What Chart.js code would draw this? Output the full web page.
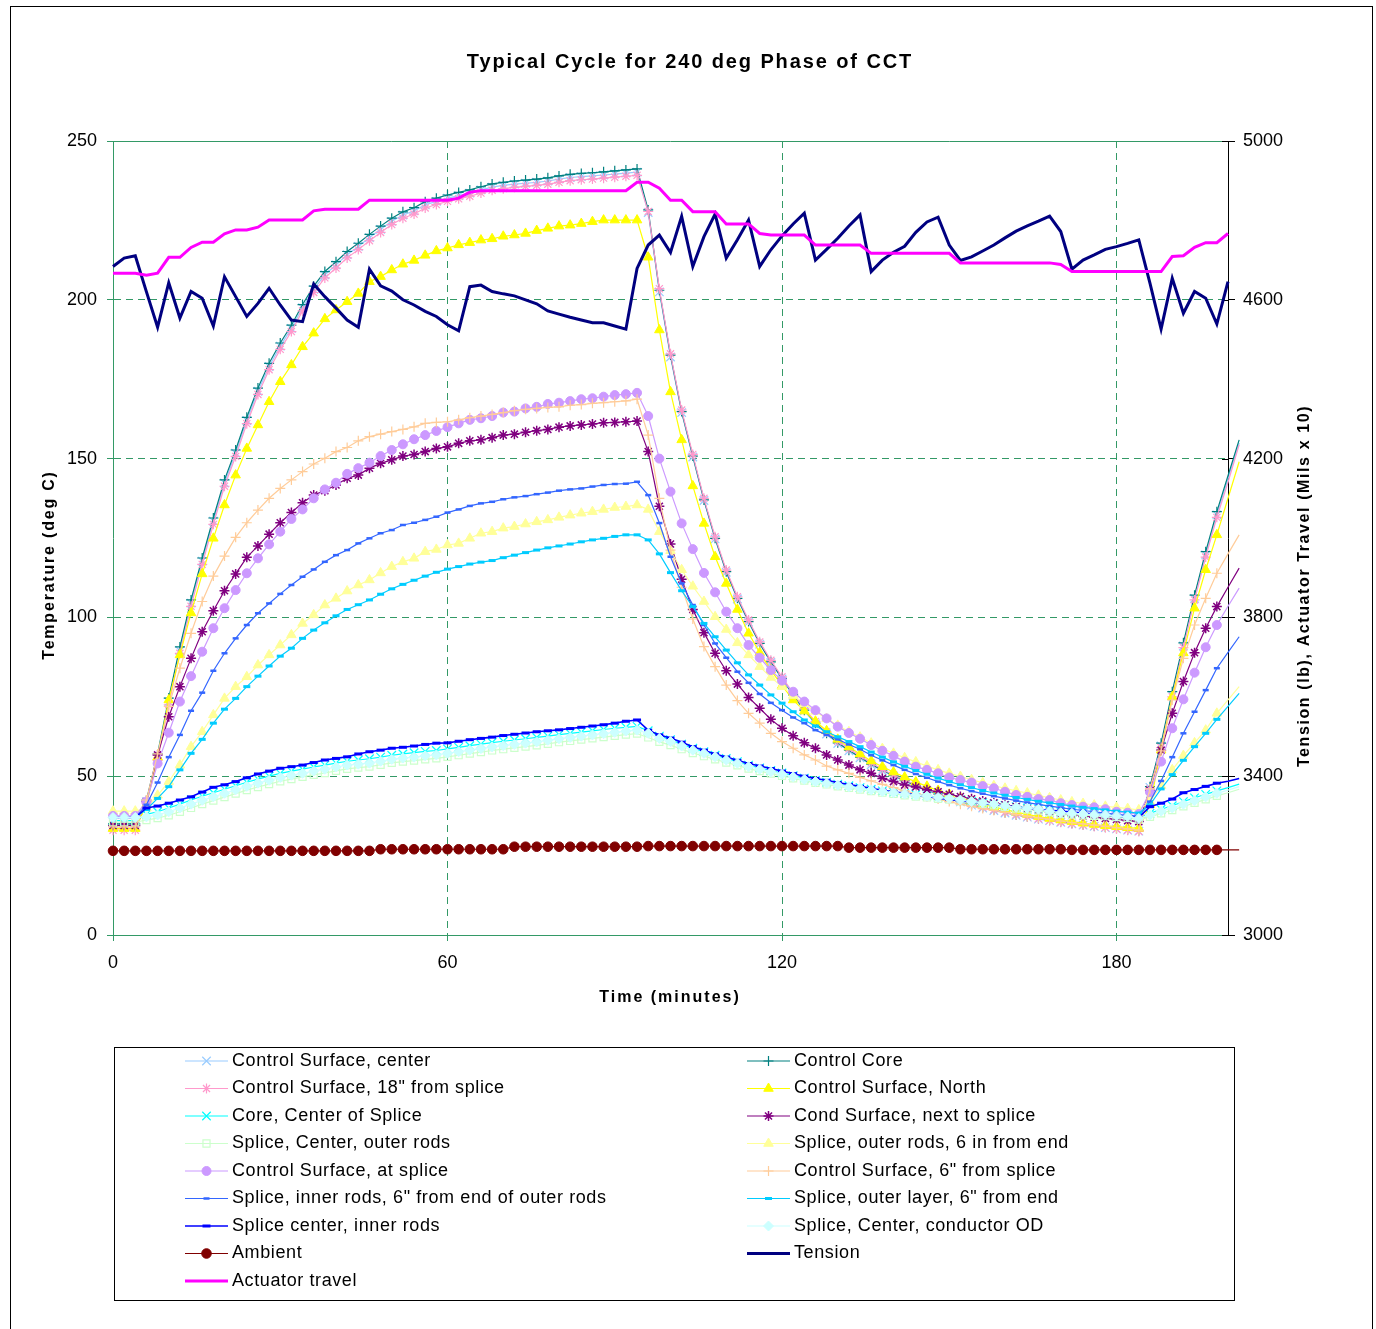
<!DOCTYPE html>
<html>
<head>
<meta charset="utf-8">
<script src="https://cdn.jsdelivr.net/npm/chart.js@4.4.1/dist/chart.umd.min.js"></script>
<style>
html,body{margin:0;padding:0;background:#fff;}
canvas{display:block;}
</style>
</head>
<body>
<canvas id="c" width="1376" height="1329"></canvas>
<script>
// ---------------- DATA ----------------
const minutes = [0,2,4,6,8,10,12,14,16,18,20,22,24,26,28,30,32,34,36,38,40,42,44,46,48,50,52,54,56,58,
  60,62,64,66,68,70,72,74,76,78,80,82,84,86,88,90,92,94,96,98,100,102,104,106,108,110,112,114,116,118,
  120,122,124,126,128,130,132,134,136,138,140,142,144,146,148,150,152,154,156,158,160,162,164,166,168,170,
  172,174,176,178,180,182,184,186,188,190,192,194,196,198,200,202];
const timeTicks = [0, 60, 120, 180];
const tempTicks = [0, 50, 100, 150, 200, 250];
const tensionTicks = [3000, 3400, 3800, 4200, 4600, 5000];

const controlSurfaceCenter = [34,34,34,
  42,56,73.5,89.5,104.5,117.7,130.3,142.3,151.7,162,
  171.2,179,185.4,191,197.5,203.3,207.9,211,214.2,216.8,
  219.6,222.2,224.7,226.7,228,229.9,231,232,232.8,233.6,
  234.6,235.5,236,236.4,236.7,237,237.4,238,238.5,238.8,
  239,239.3,239.6,239.9,240.2,
  227.5,202.5,182,164.5,150.5,136.8,124.7,114.2,105.8,98.5,
  91.6,85.8,80.6,75.4,70.6,66.5,63.3,60.3,58,55.8,
  53.6,51.7,50,48.4,46.9,45.5,44.2,43,41.9,40.9,
  40,39.2,38.4,37.7,37.1,36.5,36,35.5,35,34.6,
  34.2,33.8,33.4,33,32.7,
  46.5,59.5,75.5,91,106,119.7,132.3,143.6,154.9];

const controlCore = [35,35,35,
  42.5,57,74.6,90.7,105.5,118.7,131.3,143.3,152.7,163,
  172.2,180,186.4,192,198.5,204.3,208.9,212,215.2,217.8,
  220.6,223.2,225.7,227.7,229,230.9,232,233,233.8,234.6,
  235.6,236.5,237,237.4,237.7,238,238.4,239,239.5,239.8,
  240,240.3,240.6,240.9,241.2,
  228.3,203,182.6,164.8,150.8,137,124.9,114.4,106,98.7,
  91.8,86,80.8,75.6,70.8,66.7,63.5,60.5,58.2,56,
  53.8,51.9,50.2,48.6,47.1,45.7,44.4,43.2,42.1,41.1,
  40.2,39.4,38.6,37.9,37.3,36.7,36.2,35.7,35.2,34.8,
  34.4,34,33.6,33.2,32.9,
  46.7,60.4,76.6,92,107,120.7,133.3,144.6,155.9];

const controlSurface18 = [33,33,33,
  41.5,55,72.5,88.7,103.5,116.7,129.3,141.3,150.7,161,
  170.2,178,184.4,190,196.5,202.3,206.9,210,213.2,215.8,
  218.6,221.2,223.7,225.7,227,228.9,230,231,231.8,232.6,
  233.6,234.5,235,235.4,235.7,236,236.4,237,237.5,237.8,
  238,238.3,238.6,238.9,239.2,
  227.8,203.5,183,165.3,151.3,137.5,125.4,114.9,106.5,99.2,
  92.3,86.5,81.3,76.1,71.3,67.2,64,61,58.7,56.4,
  54.2,52.2,50.4,48.8,47.3,45.8,44.5,43.3,42.2,41.2,
  40.2,39.4,38.6,37.9,37.2,36.6,36,35.5,35,34.6,
  34.2,33.8,33.4,33,32.6,
  46,59,75,90.5,105.5,119,131.5,142.5,154.3];

const controlSurfaceNorth = [33.5,33.5,33.5,
  41,56,74,88.2,101.4,113.7,124.9,135.4,144.8,153.2,
  160.6,167.9,174.2,179.5,185.2,189.5,194,196.8,199.4,202,
  205.7,207.3,209.4,211.2,212.4,214,215.4,216.3,217.3,218,
  218.8,219.2,220,220.4,220.9,221.8,222.5,223.2,223.5,224,
  224.6,225.1,225.1,225.1,225.1,
  213.4,190.5,171,155.9,141.4,129.6,119.1,110.7,102.5,95,
  88.9,83.4,78.5,74,70.5,67.3,64.3,61.6,59.2,57,
  54.8,53,51.3,49.7,48.2,46.8,45.5,44.3,43.2,42.2,
  41.2,40.3,39.5,38.7,38,37.3,36.7,36.2,35.7,35.2,
  34.8,34.4,34.1,33.8,33.6,
  41,58.2,75,88.8,102.9,115,126,137.5,149];

const coreCenterOfSplice = [36,36,36,
  38,38.8,40,41.2,42.5,43.7,44.8,45.9,47,48.1,
  49.1,50,50.9,51.6,52.2,52.9,53.5,54.1,54.7,55.1,
  55.5,56,56.6,57,57.4,57.8,58.1,58.6,59.1,59.6,
  60.1,60.6,61,61.4,61.8,62.2,62.6,63.1,63.5,63.9,
  64.3,64.7,65.1,65.4,65.7,
  64.3,62.6,61.5,60.1,58.8,57.7,56.6,55.6,54.6,53.5,
  52.6,51.8,51,50.2,49.4,48.7,48.1,47.5,47,46.4,
  45.9,45.4,45,44.6,44.2,43.8,43.4,43.1,42.6,42.1,
  41.7,41.3,40.8,40.4,40,39.7,39.2,38.8,38.5,38.3,
  38.1,37.9,37.6,37.3,37,
  38.3,39.6,40.7,42,43.2,44.3,45.4,46.4,47.5];

const condSurfaceNextToSplice = [34.5,34.5,34.5,
  42,56.7,68.7,78.2,87.1,95.5,102.1,108.4,113.7,118.9,
  122.5,126.2,129.8,133,136.1,138.5,139.9,141.7,143.8,144.8,
  147,148.5,149.6,150.8,151.3,152.2,153.2,153.7,154.8,155.6,
  155.9,156.6,157.4,157.7,158.3,158.8,159.2,159.9,160.3,160.6,
  160.9,161.3,161.4,161.6,161.8,
  152.2,135,123.1,112,102.5,95.2,88.7,83.2,79,74.8,
  71.4,67.9,65.1,62.7,60.5,58.8,56.7,55.1,53.5,52,
  50.9,49.3,48.3,47.2,46.6,45.7,45.1,44.3,43.6,42.9,
  42.2,41.6,41,40.4,39.8,39.3,38.8,38.3,37.9,37.5,
  37.1,36.7,36.4,36,35.7,
  45.5,58.2,69.8,79.8,88.9,96.6,103.4,109.5,115.5];

const spliceCenterOuterRods = [35.5,35.5,35.5,
  36.2,36.8,37.7,38.8,40,41.2,42.3,43.4,44.5,45.6,
  46.6,47.5,48.4,49.1,49.8,50.4,51,51.7,52.3,52.7,
  53,53.6,54.2,54.6,54.9,55.3,55.6,56.1,56.6,57.1,
  57.6,58.1,58.5,58.9,59.3,59.7,60.2,60.7,61.1,61.5,
  61.9,62.3,62.7,63.1,63.4,
  62.2,60.8,59.8,58.5,57.3,56.3,55.3,54.3,53.4,52.4,
  51.6,50.8,50.1,49.3,48.6,47.9,47.4,46.8,46.3,45.8,
  45.3,44.8,44.4,44,43.6,43.3,42.9,42.6,42.1,41.6,
  41.2,40.8,40.3,39.8,39.5,39.2,38.6,38.1,37.9,37.7,
  37.5,37.4,37.1,36.8,36.3,
  37.2,38.3,39.3,40.5,41.6,42.7,43.8,44.8,45.9];

const spliceOuterRods6in = [39,39,39,
  40,44,48.3,53.5,59.3,64,69.3,74.5,78.2,81.3,
  85,88.2,91.3,94.5,98.1,100.8,103.9,106,108.3,110.2,
  111.8,114,116,117.5,118.6,120.7,121.4,122.8,123.3,124.9,
  126.5,127,128.1,128.6,129.4,130.1,130.7,131.5,132.2,132.8,
  133.3,134,134.6,134.9,135.4,
  134,127,121,115,109.8,105,100.2,96.2,92,88.2,
  84.5,81.1,78.2,75.4,72.8,70.4,68.1,66,64,62.3,
  60.4,58.7,57.2,55.8,54.5,53.2,52,50.9,49.9,48.9,
  47.9,47,46.2,45.4,44.7,44,43.2,42.5,41.9,41.4,
  40.9,40.5,40.2,39.8,39.4,
  42,47,52,56.5,60.5,64.5,69.8,74,78.2];

const controlSurfaceAtSplice = [37.5,37.5,37.5,
  42,54,63.7,73.5,81.5,89.2,96.6,102.9,108.6,113.9,
  118.6,123,127,131,134,137.5,140.3,142.4,145.2,147,
  148.7,150.8,152.7,154.5,156.1,157.4,158.7,159.9,161.1,162.2,
  162.7,163.4,164.5,164.8,165.8,166.3,167.2,167.6,168.1,168.7,
  169,169.5,170,170.3,170.7,
  163.4,150,139.6,129.6,121.5,114,107.9,101.8,96.6,91.3,
  87.3,83.4,80.1,76.6,73.5,70.8,68.2,65.6,63.6,61.8,
  59.8,58,56.4,54.6,53,52,50.9,49.6,48.8,48,
  46.9,46.2,45.1,44.1,43.5,42.8,42.5,41.5,40.9,40.4,
  40.2,39.6,38.8,38.5,38.1,
  45,54.6,65.1,74.2,82.6,90.6,97.6,103.5,109.2];

const controlSurface6 = [34,34,34,
  42.5,57,72,84,95,105,113,119.3,125.2,129.8,
  133.8,137.5,140.6,143.3,145.9,148.3,150.1,152.2,153.5,155.6,
  156.9,157.7,158.5,159.2,160,161.1,161.4,161.6,162.2,162.9,
  163.4,163.9,164.5,165.1,165.5,165.8,166.1,166.3,166.8,167,
  167.4,167.6,167.9,168.2,168.7,
  157.4,137.5,121.2,109.5,99.5,90.8,84.5,78.7,73.8,69.8,
  66.7,63.5,60.9,58.8,56.7,55.1,53.2,52,50.9,49.6,
  48.5,47.4,46.4,45.4,44.5,43.6,42.8,42,41.2,40.5,
  39.8,39.2,38.6,38,37.4,36.9,36.4,35.9,35.4,35,
  34.6,34.2,33.8,33.4,33,
  46,58,74,87.1,97.6,106,113.9,120,126];

const spliceInnerRods6 = [37,37,37,
  41,48,56,63,70.6,76.3,83.2,88.7,93.4,97.6,
  101.3,104.4,107.4,110.2,112.8,115.1,117.5,119.6,121.2,123.3,
  124.9,126.5,127.5,129.1,129.8,130.7,131.7,133,134,135.1,
  135.9,136.4,137.2,137.8,138.2,138.8,139.3,139.9,140.3,140.6,
  141.2,141.7,142,142.1,142.7,
  138.5,129.7,119.1,110.7,103.9,97.6,91.8,87.3,82.9,79.4,
  75.9,73.1,70.8,68.5,66.7,64.5,63,61.6,60,58.5,
  56.6,55,53.5,52,50.7,49.5,48.3,47.2,46.2,45.3,
  44.5,43.7,43,42.3,41.7,41.1,40.6,40.1,39.6,39.2,
  38.8,38.4,38,37.7,37.4,
  42,48.5,56,63.5,70.3,77.1,84,89,93.9];

const spliceOuterLayer6 = [37,37,37,
  39.5,43,46.7,52,57.2,61.6,66.7,71.1,74.5,78.2,
  81.5,84.7,87.8,90.3,93.4,96,98.3,100.5,102.5,104,
  105.5,107.3,109,110.4,111.7,113,114.2,115.2,116,116.8,
  117.4,117.9,118.8,119.6,120.4,121.2,121.9,122.5,123.1,123.8,
  124.4,124.9,125.5,126,126,
  124.4,120,114.1,108.4,103.4,98.1,93.9,89.7,85.7,81.9,
  78.7,75.6,73,70.3,67.7,65.8,64,62.4,60.9,59.3,
  57.6,56,54.5,53.1,51.8,50.6,49.4,48.3,47.3,46.4,
  45.5,44.7,44,43.3,42.7,42.1,41.6,41.1,40.6,40.2,
  39.8,39.4,39,38.7,38.4,
  41,46,50.5,55,59.3,63.5,67.9,72,76.1];

const spliceCenterInnerRods = [37,37,37,
  40,40.6,41.5,42.5,43.5,45,46.5,47.3,48.3,49.5,
  50.7,51.6,52.5,53,53.5,54.3,55.1,55.6,56.1,57,
  57.7,58.2,58.8,59.1,59.5,60,60.4,60.5,61,61.5,
  61.9,62.3,62.8,63.2,63.6,64,64.3,64.6,65,65.4,
  65.8,66.2,66.7,67.3,67.7,
  64.5,63,62,60.7,59.3,58.2,57,56,55,54,
  53.2,52.4,51.6,50.8,50,49.3,48.7,48,47.4,46.8,
  46.2,45.6,45.1,44.6,44.1,43.6,43.1,42.7,42.3,41.9,
  41.5,41.1,40.7,40.3,39.9,39.6,39.3,39,38.7,38.4,
  38.1,37.8,37.5,37.2,37,
  40.4,41.5,42.8,44.8,45.8,46.8,47.8,48.4,49.3];

const spliceCenterConductorOD = [37,37,37,
  37.2,37.8,38.8,40,41.2,42.4,43.5,44.6,45.7,46.8,
  47.8,48.7,49.6,50.3,50.9,51.6,52.2,52.9,53.5,53.8,
  54.1,54.7,55.3,55.7,56,56.4,56.7,57.2,57.7,58.2,
  58.7,59.2,59.6,60,60.4,60.8,61.3,61.8,62.2,62.6,
  63,63.4,63.8,64.2,64.5,
  63.5,61.9,60.9,59.5,58.2,57.2,56.1,55.1,54.1,53,
  52.2,51.4,50.6,49.8,49,48.3,47.8,47.2,46.7,46.2,
  45.7,45.2,44.8,44.4,44,43.7,43.3,43,42.5,42,
  41.6,41.2,40.7,40.2,39.9,39.6,39,38.5,38.3,38.1,
  37.9,37.8,37.5,37.2,36.7,
  37.8,39,40,41.2,42.3,43.5,44.6,45.6,46.7];

const ambient = [26.5,26.5,26.5,26.5,26.5,26.5,26.5,26.5,26.5,26.5,26.5,26.5,
  26.5,26.5,26.5,26.5,26.5,26.5,26.5,26.5,26.5,26.5,26.5,26.5,
  27,27,27,27,27,27,27,27,27,27,27,27,
  27.8,27.8,27.8,27.8,27.8,27.8,27.8,27.8,27.8,27.8,27.8,27.8,
  28,28,28,28,28,28,28,28,28,28,28,28,28,28,28,28,28,28,
  27.5,27.5,27.5,27.5,27.5,27.5,27.5,27.5,27.5,27.5,
  27,27,27,27,27,27,27,27,27,27,
  26.8,26.8,26.8,26.8,26.8,26.8,26.8,26.8,26.8,26.8,26.8,26.8,26.8,26.8,26.8,26.8];

const tension = [4684,4705,4711,4620,4531,4643,4554,4621,4604,4534,
  4658,4608,4558,4591,4629,4587,4549,4545,4640,4608,
  4579,4549,4531,4677,4635,4622,4600,4587,4571,4558,
  4537,4522,4633,4637,4621,4615,4610,4600,4590,4572,
  4564,4556,4549,4542,4542,4534,4526,4679,4738,4763,
  4719,4810,4684,4759,4816,4705,4751,4801,4684,4726,
  4761,4791,4818,4700,4727,4755,4786,4814,4671,4700,
  4720,4735,4770,4796,4808,4738,4699,4708,4723,4738,
  4756,4773,4786,4798,4811,4772,4677,4700,4713,4727,
  4734,4742,4751,4642,4526,4654,4566,4621,4604,4539,
  4646];

const actuatorTravel = [4667,4667,4667,4662,4667,4707,4707,4732,4745,4745,
  4766,4776,4776,4783,4801,4801,4801,4801,4824,4828,
  4828,4828,4828,4851,4851,4851,4851,4851,4851,4851,
  4851,4856,4871,4875,4875,4875,4875,4875,4875,4875,
  4875,4875,4875,4875,4875,4875,4875,4896,4896,4881,
  4851,4851,4822,4822,4822,4791,4791,4791,4767,4763,
  4763,4763,4763,4738,4738,4738,4738,4738,4717,4717,
  4717,4717,4717,4717,4717,4717,4693,4693,4693,4693,
  4693,4693,4693,4693,4693,4689,4671,4671,4671,4671,
  4671,4671,4671,4671,4671,4709,4711,4732,4744,4744,
  4767];

// ---------------- STYLE ----------------
const FONT = '"Liberation Sans", Arial, Helvetica, sans-serif';
const GREEN = '#339966';

const seriesDefs = [
  {label:'Control Surface, center', data:controlSurfaceCenter, color:'#99ccff', ps:'crossRot', r:6, pbw:1.2, lw:1.2},
  {label:'Control Core', data:controlCore, color:'#008080', ps:'cross', r:5, pbw:1.2, lw:1.2},
  {label:'Control Surface, 18" from splice', data:controlSurface18, color:'#ff99cc', ps:'star', r:5, pbw:1.2, lw:1.2},
  {label:'Control Surface, North', data:controlSurfaceNorth, color:'#ffff00', ps:'triangle', r:5.5, pbw:1, lw:1.2},
  {label:'Core, Center of Splice', data:coreCenterOfSplice, color:'#00ffff', ps:'crossRot', r:6, pbw:1.2, lw:1.2},
  {label:'Cond Surface, next to splice', data:condSurfaceNextToSplice, color:'#800080', ps:'star', r:5, pbw:1.5, lw:1.2},
  {label:'Splice, Center, outer rods', data:spliceCenterOuterRods, color:'#ccffcc', ps:'rect', r:5, pbw:1.2, lw:1.2, fill:'rgba(255,255,255,0)'},
  {label:'Splice, outer rods, 6 in from end', data:spliceOuterRods6in, color:'#ffff99', ps:'triangle', r:5.5, pbw:1, lw:1.2},
  {label:'Control Surface, at splice', data:controlSurfaceAtSplice, color:'#cc99ff', ps:'circle', r:4.5, pbw:1, lw:1.2},
  {label:'Control Surface, 6" from splice', data:controlSurface6, color:'#ffcc99', ps:'cross', r:5, pbw:1.2, lw:1.2},
  {label:'Splice, inner rods, 6" from end of outer rods', data:spliceInnerRods6, color:'#3366ff', ps:'line', r:3, pbw:2.5, lw:1.2},
  {label:'Splice, outer layer, 6" from end', data:spliceOuterLayer6, color:'#00ccff', ps:'line', r:3.5, pbw:3, lw:1.2},
  {label:'Splice center, inner rods', data:spliceCenterInnerRods, color:'#0000ff', ps:'line', r:4, pbw:3, lw:1.6},
  {label:'Splice, Center, conductor OD', data:spliceCenterConductorOD, color:'#ccffff', ps:'rectRot', r:5, pbw:1, lw:1.2},
  {label:'Ambient', data:ambient, color:'#800000', ps:'circle', r:4.8, pbw:1, lw:1.2},
  {label:'Tension', data:tension, color:'#000080', ps:false, r:0, pbw:0, lw:3, axis:'y2'},
  {label:'Actuator travel', data:actuatorTravel, color:'#ff00ff', ps:false, r:0, pbw:0, lw:3, axis:'y2'}
];

function toPoints(xs, ys) { return ys.map((v, i) => ({x: xs[i], y: v})); }

const datasets = seriesDefs.map((s, i) => ({
  label: s.label,
  data: toPoints(minutes, s.data),
  yAxisID: s.axis || 'y',
  borderColor: s.color,
  backgroundColor: s.fill || s.color,
  borderWidth: s.lw,
  pointStyle: s.ps,
  pointRadius: (ctx) => (ctx.raw && ctx.raw.x >= 200) ? 0 : s.r,
  pointHoverRadius: 0,
  pointBorderColor: s.color,
  pointBackgroundColor: s.fill || s.color,
  pointBorderWidth: s.pbw,
  tension: 0,
  fill: false,
  clip: false,
  order: seriesDefs.length - i
}));

function drawMarker(ctx, s, x, y) {
  if (!s.ps || !s.r) return;
  ctx.save();
  ctx.fillStyle = s.fill || s.color;
  ctx.strokeStyle = s.color;
  ctx.lineWidth = s.pbw;
  if (Chart.helpers && Chart.helpers.drawPoint) {
    Chart.helpers.drawPoint(ctx, {pointStyle: s.ps, radius: s.r, rotation: 0, borderWidth: s.pbw}, x, y);
  } else {
    ctx.beginPath(); ctx.arc(x, y, s.r, 0, Math.PI * 2); ctx.fill();
  }
  ctx.restore();
}

const decorPlugin = {
  id: 'decor',
  beforeDatasetsDraw(chart) {
    const {ctx, chartArea: a} = chart;
    ctx.save();
    ctx.strokeStyle = GREEN; ctx.lineWidth = 1;
    ctx.beginPath(); ctx.moveTo(a.left, Math.round(a.top) + 0.5); ctx.lineTo(a.right, Math.round(a.top) + 0.5); ctx.stroke();
    // inner half of the right-axis tick marks (ticks cross the axis)
    const s2 = chart.scales.y2;
    ctx.strokeStyle = '#000';
    tensionTicks.forEach(v => {
      const py = Math.round(s2.getPixelForValue(v)) + 0.5;
      ctx.beginPath(); ctx.moveTo(a.right - 6, py); ctx.lineTo(a.right, py); ctx.stroke();
    });
    ctx.restore();
  },
  afterDraw(chart) {
    const ctx = chart.ctx;
    ctx.save();
    // outer frame
    ctx.strokeStyle = '#000'; ctx.lineWidth = 1;
    ctx.strokeRect(10.5, 6.5, 1362, 1340);
    ctx.fillStyle = '#000';
    ctx.textBaseline = 'middle';
    ctx.textAlign = 'center';
    // main title
    ctx.font = 'bold 20px ' + FONT;
    ctx.letterSpacing = '1.9px';
    ctx.fillText('Typical Cycle for 240 deg Phase of CCT', 690, 62);
    // x title
    ctx.font = 'bold 16px ' + FONT;
    ctx.letterSpacing = '2px';
    ctx.fillText('Time (minutes)', 670, 998);
    // left title
    ctx.letterSpacing = '1.8px';
    ctx.save(); ctx.translate(50, 565); ctx.rotate(-Math.PI / 2);
    ctx.fillText('Temperature (deg C)', 0, 0); ctx.restore();
    // right title
    ctx.letterSpacing = '1.6px';
    ctx.save(); ctx.translate(1305, 586); ctx.rotate(-Math.PI / 2);
    ctx.fillText('Tension (lb), Actuator Travel (Mils x 10)', 0, 0); ctx.restore();

    // legend box
    ctx.letterSpacing = '0px';
    ctx.strokeStyle = '#000'; ctx.lineWidth = 1;
    ctx.strokeRect(114.5, 1047.5, 1120, 253);
    ctx.font = '18px ' + FONT;
    ctx.letterSpacing = '0.6px';
    ctx.textAlign = 'left';
    const cols = [{x0: 185, x1: 228, tx: 232}, {x0: 747, x1: 790, tx: 794}];
    seriesDefs.forEach((s, i) => {
      const row = Math.floor(i / 2), col = i % 2;
      const y = 1061 + row * 27.5;
      const c = cols[col];
      ctx.save();
      ctx.strokeStyle = s.color; ctx.lineWidth = s.lw;
      ctx.beginPath(); ctx.moveTo(c.x0, y); ctx.lineTo(c.x1, y); ctx.stroke();
      ctx.restore();
      drawMarker(ctx, s, (c.x0 + c.x1) / 2, y);
      ctx.fillStyle = '#000';
      ctx.fillText(s.label, c.tx, y);
    });
    ctx.restore();
  }
};

const tickFont = {family: FONT, size: 18};

new Chart(document.getElementById('c'), {
  type: 'line',
  data: {datasets},
  plugins: [decorPlugin],
  options: {
    responsive: false,
    animation: false,
    devicePixelRatio: 1,
    events: [],
    parsing: true,
    layout: {padding: {top: 141, left: 30, right: 50, bottom: 334}},
    plugins: {legend: {display: false}, title: {display: false}, tooltip: {enabled: false}},
    scales: {
      x: {
        type: 'linear', position: 'bottom', bounds: 'data',
        afterDataLimits: (s) => { s.min = 0; s.max = 200; },
        afterBuildTicks: (s) => { s.ticks = timeTicks.map(v => ({value: v})); },
        afterFit: (s) => { s.height = 60; },
        grid: {
          color: (c) => (c.tick && c.tick.value === 0) ? 'rgba(0,0,0,0)' : GREEN,
          lineWidth: 1, drawTicks: true, tickLength: 6, tickColor: GREEN
        },
        border: {display: true, color: GREEN, width: 1, dash: [7, 5]},
        ticks: {font: tickFont, color: '#000', padding: 11, maxRotation: 0, autoSkip: false, callback: (v) => String(v)}
      },
      y: {
        type: 'linear', position: 'left', min: 0, max: 250,
        afterBuildTicks: (s) => { s.ticks = tempTicks.map(v => ({value: v})); },
        afterFit: (s) => { s.width = 83; },
        grid: {
          color: (c) => (c.tick && (c.tick.value === 0 || c.tick.value === 250)) ? 'rgba(0,0,0,0)' : GREEN,
          lineWidth: 1, drawTicks: true, tickLength: 6, tickColor: GREEN
        },
        border: {display: true, color: GREEN, width: 1, dash: [7, 5]},
        ticks: {font: tickFont, color: '#000', padding: 10, autoSkip: false, callback: (v) => String(v)}
      },
      y2: {
        type: 'linear', position: 'right', min: 3000, max: 5000,
        afterBuildTicks: (s) => { s.ticks = tensionTicks.map(v => ({value: v})); },
        afterFit: (s) => { s.width = 98; },
        grid: {drawOnChartArea: false, drawTicks: true, tickLength: 7, tickColor: '#000', color: '#000'},
        border: {display: true, color: '#000', width: 1},
        ticks: {font: tickFont, color: '#000', padding: 8, autoSkip: false, callback: (v) => String(v)}
      }
    }
  }
});
</script>
</body>
</html>
